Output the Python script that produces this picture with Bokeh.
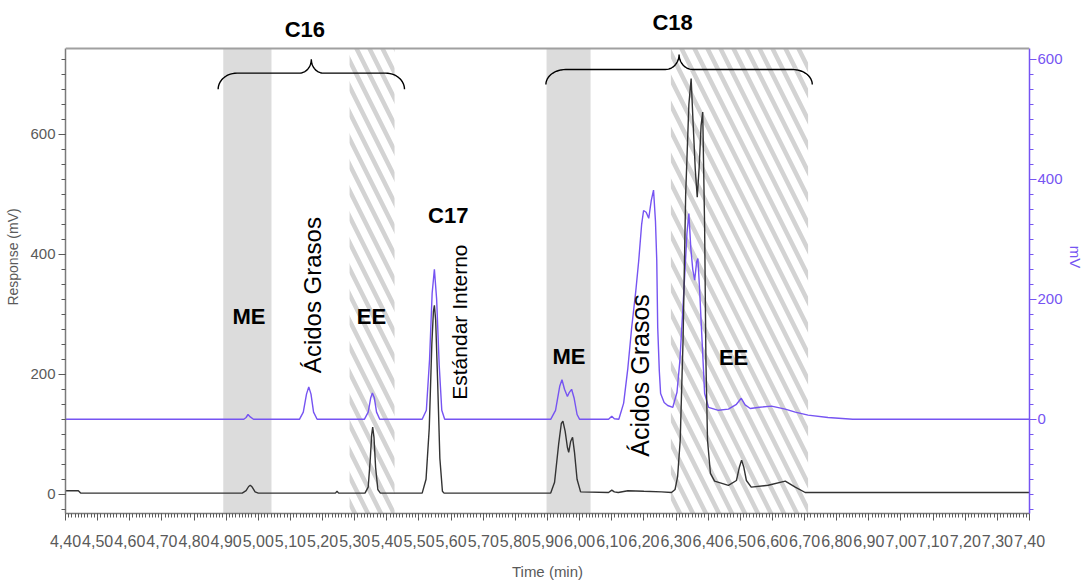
import numpy as np
from bokeh.plotting import figure
from bokeh.models import (Range1d, LinearAxis, SingleIntervalTicker, CustomJSTickFormatter,
                          BoxAnnotation, Label, Span)
from bokeh.embed import file_html
from bokeh.resources import INLINE

# ---------------- data ----------------
# detector 1 (black, left axis, mV)
fid_time = [4.400, 4.440, 4.447, 4.950, 4.962, 4.970, 4.975, 4.981, 4.990, 5.000,
            5.240, 5.245, 5.250,
            5.332, 5.342, 5.348, 5.353, 5.356, 5.360, 5.365, 5.372, 5.380,
            5.510, 5.522, 5.532, 5.540, 5.545, 5.548, 5.552, 5.558, 5.565, 5.573, 5.578,
            5.910, 5.922, 5.935, 5.943, 5.948, 5.955, 5.962, 5.966, 5.972, 5.978, 5.984, 5.992, 6.003,
            6.090, 6.100, 6.108, 6.120, 6.150, 6.200, 6.255, 6.286,
            6.297, 6.305, 6.313, 6.322, 6.330, 6.340, 6.347, 6.353, 6.360, 6.366, 6.372, 6.378,
            6.383, 6.389, 6.393, 6.398, 6.407, 6.420, 6.463, 6.488, 6.497, 6.504, 6.511, 6.519,
            6.534, 6.587, 6.640, 6.671, 6.702, 6.773, 7.400]
fid_resp = [6, 6, 2, 2, 6, 13, 15, 12, 4, 2,
            2, 5, 2,
            2, 12, 55, 100, 112, 95, 45, 8, 2,
            2, 25, 110, 250, 305, 315, 290, 190, 60, 5, 2,
            2, 20, 85, 118, 122, 105, 78, 70, 88, 95, 70, 25, 4,
            3, 7, 4, 3, 6, 5, 4, 3,
            8, 30, 90, 260, 500, 650, 693, 620, 540, 495, 545, 615,
            637, 445, 223, 90, 35, 22, 15, 23, 45, 57, 45, 23,
            12, 15, 22, 12, 3, 3, 3]

# detector 2 (blue, right axis, mV)
uv_time = [4.400, 4.955, 4.962, 4.968, 4.975, 4.985,
           5.128, 5.140, 5.150, 5.157, 5.164, 5.172, 5.183,
           5.330, 5.342, 5.350, 5.355, 5.361, 5.368, 5.378,
           5.510, 5.523, 5.533, 5.541, 5.548, 5.555, 5.563, 5.571, 5.580,
           5.910, 5.925, 5.938, 5.945, 5.953, 5.962, 5.968, 5.975, 5.983, 5.992, 6.000,
           6.090, 6.100, 6.108, 6.122,
           6.137, 6.150, 6.162, 6.175, 6.184, 6.193, 6.199, 6.207, 6.215, 6.223, 6.230, 6.236,
           6.240, 6.243, 6.248, 6.252, 6.263, 6.274, 6.290, 6.303, 6.312, 6.324, 6.334, 6.340,
           6.346, 6.352, 6.358, 6.364, 6.368, 6.373, 6.379, 6.389, 6.401, 6.432, 6.463, 6.488,
           6.503, 6.515, 6.531, 6.560, 6.597, 6.640, 6.671, 6.711, 6.773, 6.850, 7.400]
uv_resp = [0, 0, 3, 8, 4, 0,
           0, 12, 42, 54, 42, 12, 0,
           0, 12, 36, 44, 36, 12, 0,
           0, 15, 100, 210, 250, 200, 90, 15, 0,
           0, 15, 55, 66, 50, 38, 45, 50, 35, 8, 0,
           0, 5, 1, 0,
           27, 85, 153, 215, 265, 325, 348, 345, 335, 365, 382, 330,
           265, 153, 80, 43, 28, 23, 20, 45, 98, 210, 310, 343,
           285, 250, 232, 262, 268, 220, 153, 43, 20, 15, 17, 25,
           35, 24, 18, 20, 22, 17, 12, 7, 3, 0, 0]

# shaded zones: methyl esters (ME) and ethyl esters (EE)
me_start = [4.891, 5.897]
me_end = [5.041, 6.034]
ee_start = [5.284, 6.284]
ee_end = [5.424, 6.711]

# groups with braces
group_names = ["C16", "C18"]
group_start = [4.875, 5.895]
group_end = [5.455, 6.724]
group_label_y = [775, 787]

# peak annotations
zone_labels = ["ME", "EE", "ME", "EE", "C17"]
zone_label_x = [4.971, 5.352, 5.967, 6.479, 5.591]
zone_label_y = [297, 297, 230, 228, 465]

rot_labels = ["Ácidos Grasos", "Estándar Interno", "Ácidos Grasos"]
rot_label_x = [5.169, 5.625, 6.187]
rot_label_y = [332, 287, 198]
rot_label_size = ["24px", "21px", "25px"]

# axis extents
left_lo, left_hi = -32, 743
right_lo, right_hi = -157, 618
top_margin = 80   # extra range above the frame line (room for the group titles)

BLUE = "#7654f2"
GRAY = "#5a5a5a"
AXFONT = "Liberation Sans"

p = figure(width=1086, height=582, output_backend="svg", toolbar_location=None,
           x_range=Range1d(4.40, 7.40), y_range=Range1d(left_lo, left_hi + top_margin),
           min_border_left=65, min_border_right=54, min_border_top=0, min_border_bottom=69)
p.extra_y_ranges = {"right": Range1d(right_lo, right_hi + top_margin)}
p.grid.visible = False
p.outline_line_color = None
p.background_fill_color = "white"

# shaded zones
for s, e in zip(me_start, me_end):
    p.add_layout(BoxAnnotation(left=s, right=e, top=left_hi, fill_color="#dcdcdc", fill_alpha=1.0,
                               line_color=None, level="underlay"))
for s, e in zip(ee_start, ee_end):
    p.add_layout(BoxAnnotation(left=s, right=e, top=left_hi, fill_color="white", fill_alpha=0.0,
                               hatch_pattern="\\", hatch_color="#d3d3d3", hatch_weight=4.5,
                               hatch_scale=26, line_color=None, level="underlay"))

# top frame line
p.add_layout(Span(location=left_hi, dimension="width", line_color="#a0a0a0", line_width=2))

# traces
p.line(uv_time, uv_resp, line_color=BLUE, line_width=1.4, y_range_name="right")
p.line(fid_time, fid_resp, line_color="#333333", line_width=1.4)

# braces (curly brackets spanning each group)
def brace(x0, x1, y_end, y_h, y_tip, dx_end, dx_tip):
    xm = 0.5 * (x0 + x1)
    th = np.linspace(0, np.pi / 2, 14)
    xs, ys = [], []
    xs += list(x0 + dx_end - dx_end * np.cos(th)); ys += list(y_end + (y_h - y_end) * np.sin(th))
    xs += list(xm - dx_tip + dx_tip * np.sin(th)); ys += list(y_tip - (y_tip - y_h) * np.cos(th))
    xs += list(xm + dx_tip - dx_tip * np.cos(th)); ys += list(y_tip - (y_tip - y_h) * np.sin(th))
    xs += list(x1 - dx_end + dx_end * np.sin(th)); ys += list(y_end + (y_h - y_end) * np.cos(th))
    return xs, ys

brace_geom = [(675, 702, 725, 0.059, 0.037), (683, 708, 733, 0.062, 0.043)]
for s, e, g in zip(group_start, group_end, brace_geom):
    bx, by = brace(s, e, *g)
    p.line(bx, by, line_color="black", line_width=1.4)

for name, s, e, ly in zip(group_names, group_start, group_end, group_label_y):
    p.add_layout(Label(x=0.5 * (s + e) - 0.02, y=ly, text=name, text_align="center",
                       text_baseline="middle", text_font="Liberation Sans",
                       text_font_style="bold", text_font_size="22px", text_color="black"))

for t, x, y in zip(zone_labels, zone_label_x, zone_label_y):
    p.add_layout(Label(x=x, y=y, text=t, text_align="center", text_baseline="middle",
                       text_font="Liberation Sans", text_font_style="bold",
                       text_font_size="22px", text_color="black"))

for t, x, y, fs in zip(rot_labels, rot_label_x, rot_label_y, rot_label_size):
    p.add_layout(Label(x=x, y=y, text=t, angle=np.pi / 2, text_align="center",
                       text_baseline="middle", text_font="Liberation Sans",
                       text_font_size=fs, text_color="black"))

def style_axis(ax, color, line_color, label_size, font_size, standoff, label_standoff):
    ax.axis_line_color = line_color
    ax.axis_line_width = 1.5
    ax.major_tick_line_color = color
    ax.minor_tick_line_color = color
    ax.major_tick_out = 7
    ax.major_tick_in = 0
    ax.minor_tick_out = 4
    ax.minor_tick_in = 0
    ax.major_label_text_font = AXFONT
    ax.major_label_text_font_size = font_size
    ax.major_label_text_color = color
    ax.major_label_standoff = standoff
    ax.axis_label_text_font = AXFONT
    ax.axis_label_text_font_size = label_size
    ax.axis_label_text_font_style = "normal"
    ax.axis_label_text_color = color
    ax.axis_label_standoff = label_standoff

# x axis
xa = p.xaxis[0]
xa.ticker = SingleIntervalTicker(interval=0.1, num_minor_ticks=10)
xa.formatter = CustomJSTickFormatter(code="return tick.toFixed(2).replace('.', ',');")
xa.axis_label = "Time (min)"
style_axis(xa, GRAY, "#7a7a7a", "15px", "16px", 14, 13)

# left axis
ya = p.yaxis[0]
ya.ticker = SingleIntervalTicker(interval=200, num_minor_ticks=8)
ya.axis_label = "Response (mV)"
ya.bounds = (left_lo, left_hi)
style_axis(ya, GRAY, "#7a7a7a", "14px", "15px", 3, 6)

# right axis
ra = LinearAxis(y_range_name="right", ticker=SingleIntervalTicker(interval=200, num_minor_ticks=8),
                axis_label="mV", bounds=(right_lo, right_hi))
style_axis(ra, BLUE, BLUE, "15px", "15px", 1, 1)
p.add_layout(ra, "right")

open("out.html", "w").write(file_html(p, INLINE))
